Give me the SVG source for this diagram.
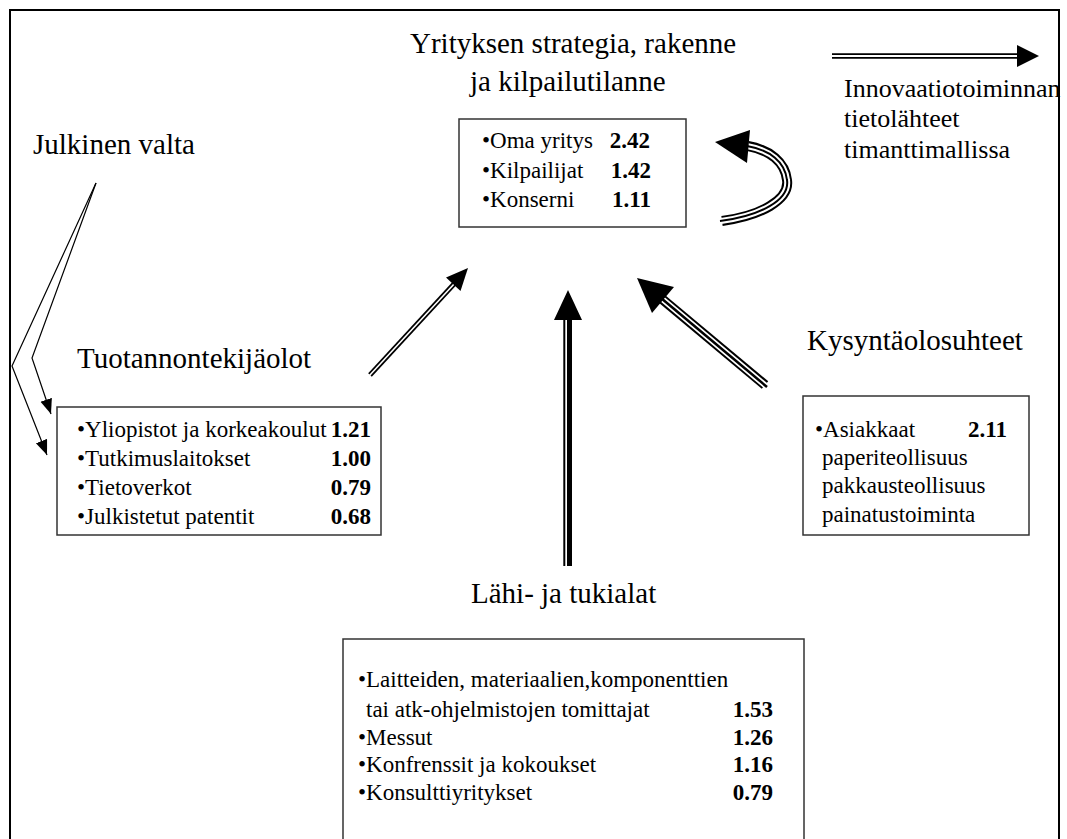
<svg xmlns="http://www.w3.org/2000/svg" width="1067" height="839" viewBox="0 0 1067 839" font-family="'Liberation Serif', 'Times New Roman', Times, serif">
<defs>
<style>
text{font-family:'Liberation Serif','Times New Roman',Times,serif;fill:#000}
.h{font-size:29px}
.t{font-size:23px}
.n{font-size:23px;font-weight:bold;text-anchor:end}
.leg{font-size:26px}
.box{fill:#fff;stroke:#333;stroke-width:1.5}
.thin{fill:none;stroke:#000;stroke-width:1.2}
.blk{fill:#000}
</style>
<marker id="ah" markerUnits="userSpaceOnUse" markerWidth="16" markerHeight="14" refX="15" refY="6" orient="auto">
<path d="M0,0 L15,6 L0,12 z" fill="#000"/>
</marker>
</defs>
<rect width="1067" height="839" fill="#fff"/>
<path d="M10,839 V10 H1059 V839" fill="none" stroke="#000" stroke-width="2"/>

<g id="node-strategy">
<text class="h" x="410" y="53">Yrityksen strategia, rakenne</text>
<text class="h" x="470" y="91">ja kilpailutilanne</text>
<rect class="box" x="459" y="119" width="227" height="108"/>
<text class="t" x="482" y="148">•Oma yritys</text><text class="n" x="650" y="148">2.42</text>
<text class="t" x="482" y="178">•Kilpailijat</text><text class="n" x="651" y="178">1.42</text>
<text class="t" x="482" y="207">•Konserni</text><text class="n" x="651" y="207">1.11</text>
</g>

<g id="node-legend">
<text class="leg" x="844" y="97">Innovaatiotoiminnan</text>
<text class="leg" x="844" y="127">tietolähteet</text>
<text class="leg" x="844" y="158">timanttimallissa</text>
</g>

<g id="node-julkinen">
<text class="h" x="33" y="154">Julkinen valta</text>
</g>

<g id="node-tuotanto">
<text class="h" x="77" y="368">Tuotannontekijäolot</text>
<rect class="box" x="57" y="407" width="324" height="128"/>
<text class="t" x="77" y="437">•Yliopistot ja korkeakoulut</text><text class="n" x="371" y="437">1.21</text>
<text class="t" x="77" y="466">•Tutkimuslaitokset</text><text class="n" x="371" y="466">1.00</text>
<text class="t" x="77" y="495">•Tietoverkot</text><text class="n" x="371" y="495">0.79</text>
<text class="t" x="77" y="524">•Julkistetut patentit</text><text class="n" x="371" y="524">0.68</text>
</g>

<g id="node-kysynta">
<text class="h" x="807" y="350">Kysyntäolosuhteet</text>
<rect class="box" x="803" y="396" width="226" height="139"/>
<text class="t" x="815" y="437">•Asiakkaat</text><text class="n" x="1007" y="437">2.11</text>
<text class="t" x="822" y="465">paperiteollisuus</text>
<text class="t" x="822" y="493">pakkausteollisuus</text>
<text class="t" x="822" y="522">painatustoiminta</text>
</g>

<g id="node-lahi">
<text class="h" x="471" y="603">Lähi- ja tukialat</text>
<rect class="box" x="343" y="639" width="461" height="220"/>
<text class="t" x="358" y="687">•Laitteiden, materiaalien,komponenttien</text>
<text class="t" x="366" y="717">tai atk-ohjelmistojen tomittajat</text><text class="n" x="773" y="717">1.53</text>
<text class="t" x="358" y="745">•Messut</text><text class="n" x="773" y="745">1.26</text>
<text class="t" x="358" y="772">•Konfrenssit ja kokoukset</text><text class="n" x="773" y="772">1.16</text>
<text class="t" x="358" y="800">•Konsulttiyritykset</text><text class="n" x="773" y="800">0.79</text>
</g>

<g id="connectors">
<line x1="832" y1="56" x2="1018" y2="56" stroke="#000" stroke-width="5.5"/>
<line x1="831" y1="56" x2="1019" y2="56" stroke="#fff" stroke-width="2"/>
<path class="blk" d="M1039,56 L1017,45 L1017,67 z"/>
<path d="M722,221 C760,216 790,200 787,180 C785,162 770,150 748,146" fill="none" stroke="#000" stroke-width="10"/>
<path d="M721,221 C760,216 790,200 787,180 C785,162 770,150 747,146" fill="none" stroke="#fff" stroke-width="6"/>
<path d="M720,221 C760,216 790,200 787,180 C785,162 770,150 747,146" fill="none" stroke="#000" stroke-width="2"/>
<path class="blk" d="M715,142 L750,130 L747,163 z"/>
<line x1="370" y1="375" x2="454" y2="284" stroke="#000" stroke-width="5"/>
<line x1="369" y1="376" x2="455" y2="283" stroke="#fff" stroke-width="1.6"/>
<path class="blk" d="M468,268 L446,277.5 L460.5,291 z"/>
<rect class="blk" x="563.3" y="318" width="2" height="248"/>
<rect class="blk" x="567" y="318" width="5" height="248"/>
<path class="blk" d="M568,290 L554,320 L582,320 z"/>
<line x1="765" y1="385" x2="662" y2="299" stroke="#000" stroke-width="10"/>
<line x1="766" y1="386" x2="661" y2="298" stroke="#fff" stroke-width="6"/>
<line x1="767" y1="387" x2="661" y2="298" stroke="#000" stroke-width="2.5"/>
<path class="blk" d="M637,278 L674,287 L652,313 z"/>
<path class="thin" d="M96,183 L12,366 L47,455" marker-end="url(#ah)"/>
<path class="thin" d="M96,183 L32,358 L51,414" marker-end="url(#ah)"/>
</g>
</svg>
